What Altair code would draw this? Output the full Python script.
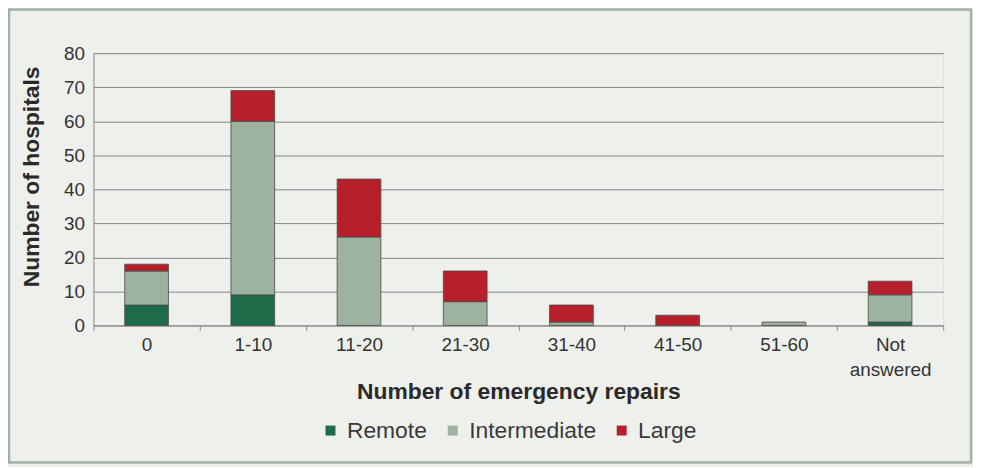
import altair as alt
import pandas as pd

categories = ["0", "1-10", "11-20", "21-30", "31-40", "41-50", "51-60", "Not answered"]
remote = [6, 9, 0, 0, 0, 0, 0, 1]
intermediate = [10, 51, 26, 7, 1, 0, 1, 8]
large = [2, 9, 17, 9, 5, 3, 0, 4]

series_names = ["Remote", "Intermediate", "Large"]
series_colors = ["#1d6b48", "#9db29f", "#b71f2a"]

rows = []
for i, cat in enumerate(categories):
    for k, (name, vals) in enumerate(zip(series_names, [remote, intermediate, large])):
        if vals[i] > 0:
            rows.append({"cat": cat, "series": name, "value": vals[i], "ord": k})
df = pd.DataFrame(rows)

FONT = "Liberation Sans"
W, H = 855, 274

bars = alt.Chart(df).mark_bar(size=44, stroke="#4a4a4a", strokeWidth=0.8).encode(
    x=alt.X(
        "cat:N",
        sort=categories,
        scale=alt.Scale(paddingInner=0, paddingOuter=0),
        axis=alt.Axis(
            title="Number of emergency repairs",
            labelAngle=0,
            labelFontSize=19,
            labelColor="#333333",
            labelPadding=5,
            labelLineHeight=25,
            labelExpr="datum.label == 'Not answered' ? ['Not', 'answered'] : datum.label",
            ticks=True,
            tickBand="extent",
            tickSize=5,
            tickColor="#8c8c8c",
            domainColor="#8c8c8c",
            titleFontSize=23,
            titleFontWeight="bold",
            titleColor="#2a2a2a",
            titleY=67,
            titleBaseline="middle",
        ),
    ),
    y=alt.Y(
        "value:Q",
        stack="zero",
        scale=alt.Scale(domain=[0, 80]),
        axis=alt.Axis(
            title="Number of hospitals",
            values=[0, 10, 20, 30, 40, 50, 60, 70, 80],
            labelFontSize=19,
            labelColor="#333333",
            labelPadding=9,
            ticks=False,
            grid=True,
            gridColor="#858585",
            gridWidth=1,
            domain=True,
            domainColor="#8c8c8c",
            titleFontSize=23,
            titleFontWeight="bold",
            titleColor="#2a2a2a",
            titleX=-62,
            titleY=124,
            titleBaseline="middle",
        ),
    ),
    color=alt.Color(
        "series:N",
        sort=series_names,
        scale=alt.Scale(domain=series_names, range=series_colors),
        legend=alt.Legend(
            title=None,
            orient="none",
            legendX=227,
            legendY=368,
            direction="horizontal",
            symbolType="square",
            symbolSize=100,
            symbolStrokeWidth=0,
            labelFontSize=23,
            labelColor="#3a3a3a",
            labelOffset=5,
            columnPadding=14,
        ),
    ),
    order=alt.Order("ord:Q", sort="ascending"),
)

frame = alt.Chart(alt.Data(values=[{"f": 1}])).mark_rect(
    fill=None, stroke="#9fb2a3", strokeWidth=2.5
).encode(
    x=alt.value(-85), x2=alt.value(883), y=alt.value(-44), y2=alt.value(412)
)

chart = alt.layer(frame, bars).properties(
    width=W,
    height=H,
    background="#eef0ec",
    padding={"left": 86, "top": 44, "right": 30, "bottom": 141},
    autosize=alt.AutoSizeParams(type="none"),
).configure_view(stroke=None).configure(font=FONT)

chart.save("out.html", embed_options={"renderer": "svg", "actions": False})
